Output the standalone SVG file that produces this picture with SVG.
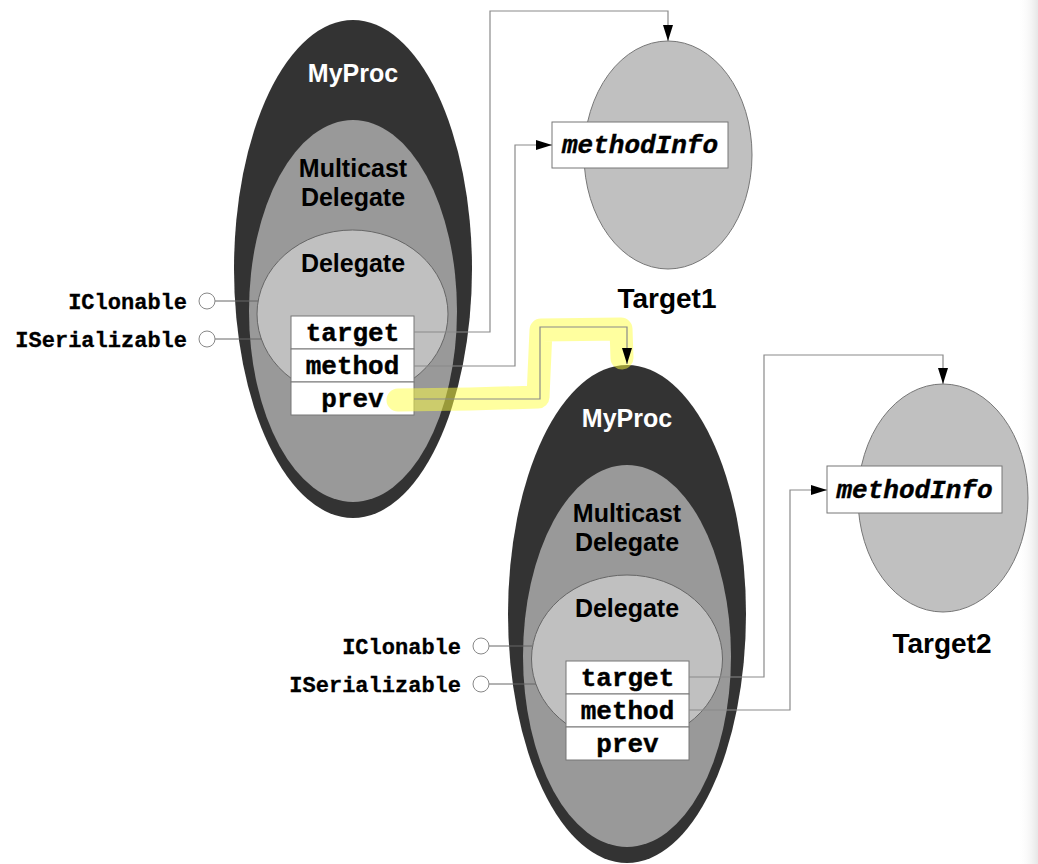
<svg xmlns="http://www.w3.org/2000/svg" width="1038" height="864" viewBox="0 0 1038 864">
  <defs>
    <marker id="arr" viewBox="0 0 16 10" refX="16" refY="5" markerWidth="16" markerHeight="10" markerUnits="userSpaceOnUse" orient="auto">
      <path d="M0,0 L16,5 L0,10 Z" fill="#000"/>
    </marker>
    <linearGradient id="edge" x1="0" y1="0" x2="1" y2="0">
      <stop offset="0" stop-color="#ffffff" stop-opacity="0"/>
      <stop offset="1" stop-color="#e6e6e6" stop-opacity="1"/>
    </linearGradient>
  </defs>
  <style>
    .outer { fill: #333333; }
    .multi { fill: #999999; }
    .deleg { fill: #c0c0c0; stroke: #666666; stroke-width: 1; }
    .targ { fill: #c0c0c0; stroke: #777777; stroke-width: 1; }
    .box { fill: #ffffff; stroke: #777777; stroke-width: 1; }
    .hd { font-family: "Liberation Sans", Arial, sans-serif; font-weight: bold; font-size: 25px; text-anchor: middle; }
    .white { fill: #ffffff; }
    .black { fill: #000000; }
    .mono { font-family: "Liberation Mono", "Courier New", monospace; font-weight: bold; font-size: 26px; text-anchor: middle; fill: #000; stroke: #000; stroke-width: 0.4; }
    .mi { font-family: "Liberation Mono", "Courier New", monospace; font-weight: bold; font-style: italic; font-size: 26px; text-anchor: middle; fill: #000; stroke: #000; stroke-width: 0.4; }
    .iface { font-family: "Liberation Mono", "Courier New", monospace; font-weight: bold; font-size: 22px; text-anchor: end; fill: #000; stroke: #000; stroke-width: 0.3; }
    .lolly { fill: #ffffff; stroke: #888888; stroke-width: 1; }
    .lline { fill: none; stroke: #666666; stroke-width: 1; }
    .conn { fill: none; stroke: #8a8a8a; stroke-width: 1.2; }
    .tname { font-family: "Liberation Sans", Arial, sans-serif; font-weight: bold; font-size: 28px; text-anchor: middle; fill: #000; }
  </style>

  <rect x="1018" y="0" width="20" height="864" fill="url(#edge)"/>

  <!-- MyProc 1 -->
  <g id="myproc1">
    <ellipse class="outer" cx="353" cy="269" rx="119" ry="249"/>
    <ellipse class="multi" cx="353" cy="311" rx="104" ry="191"/>
    <ellipse class="deleg" cx="352.5" cy="314" rx="95.5" ry="84"/>
    <text class="hd white" x="353" y="82">MyProc</text>
    <text class="hd black" x="353" y="177">Multicast</text>
    <text class="hd black" x="353" y="206">Delegate</text>
    <text class="hd black" x="353" y="272">Delegate</text>
    <rect class="box" x="291" y="316" width="123" height="33"/>
    <rect class="box" x="291" y="349" width="123" height="33"/>
    <rect class="box" x="291" y="382" width="123" height="33"/>
    <text class="mono" x="352.5" y="341">target</text>
    <text class="mono" x="352.5" y="374">method</text>
    <text class="mono" x="352.5" y="407">prev</text>
  </g>

  <g id="iface1">
    <line class="lline" x1="215" y1="301" x2="258" y2="301"/>
    <line class="lline" x1="215" y1="339" x2="262" y2="339"/>
    <circle class="lolly" cx="207" cy="301" r="8"/>
    <circle class="lolly" cx="207" cy="339" r="8"/>
    <text class="iface" x="187" y="309">IClonable</text>
    <text class="iface" x="187" y="347">ISerializable</text>
  </g>

  <!-- Target 1 -->
  <g id="target1">
    <ellipse class="targ" cx="668" cy="155" rx="84" ry="114"/>
    <rect class="box" x="552" y="122" width="176" height="46"/>
    <text class="mi" x="640" y="153">methodInfo</text>
    <text class="tname" x="667" y="308">Target1</text>
  </g>

  <!-- MyProc 2 -->
  <g id="myproc2">
    <ellipse class="outer" cx="627" cy="614" rx="119" ry="249"/>
    <ellipse class="multi" cx="627" cy="656" rx="104" ry="191"/>
    <ellipse class="deleg" cx="627" cy="659" rx="95.5" ry="84"/>
    <text class="hd white" x="627" y="427">MyProc</text>
    <text class="hd black" x="627" y="522">Multicast</text>
    <text class="hd black" x="627" y="551">Delegate</text>
    <text class="hd black" x="627" y="617">Delegate</text>
    <rect class="box" x="566" y="661" width="123" height="33"/>
    <rect class="box" x="566" y="694" width="123" height="33"/>
    <rect class="box" x="566" y="727" width="123" height="33"/>
    <text class="mono" x="627.5" y="686">target</text>
    <text class="mono" x="627.5" y="719">method</text>
    <text class="mono" x="627.5" y="752">prev</text>
  </g>

  <g id="iface2">
    <line class="lline" x1="489" y1="646" x2="532" y2="646"/>
    <line class="lline" x1="489" y1="684" x2="536" y2="684"/>
    <circle class="lolly" cx="481" cy="646" r="8"/>
    <circle class="lolly" cx="481" cy="684" r="8"/>
    <text class="iface" x="461" y="654">IClonable</text>
    <text class="iface" x="461" y="692">ISerializable</text>
  </g>

  <!-- Target 2 -->
  <g id="target2">
    <ellipse class="targ" cx="943" cy="498" rx="85" ry="114"/>
    <rect class="box" x="827" y="466" width="175" height="47"/>
    <text class="mi" x="914.5" y="498">methodInfo</text>
    <text class="tname" x="942" y="653">Target2</text>
  </g>

  <!-- highlight -->
  <path d="M398,400 L470,399 L538,397 L541,330 L621,329 L622,358" fill="none" stroke="#ffff40" stroke-opacity="0.5" stroke-width="23" stroke-linecap="round" stroke-linejoin="round"/>

  <!-- connectors -->
  <g id="connectors">
    <path class="conn" d="M414,332 H490 V11 H668 V41" marker-end="url(#arr)"/>
    <path class="conn" d="M414,366 H515 V145 H552" marker-end="url(#arr)"/>
    <path class="conn" d="M414,399 H540 V327 H627 V364" marker-end="url(#arr)"/>
    <path class="conn" d="M689,677 H764 V355 H943 V384" marker-end="url(#arr)"/>
    <path class="conn" d="M689,710 H790 V490 H827" marker-end="url(#arr)"/>
  </g>
</svg>
